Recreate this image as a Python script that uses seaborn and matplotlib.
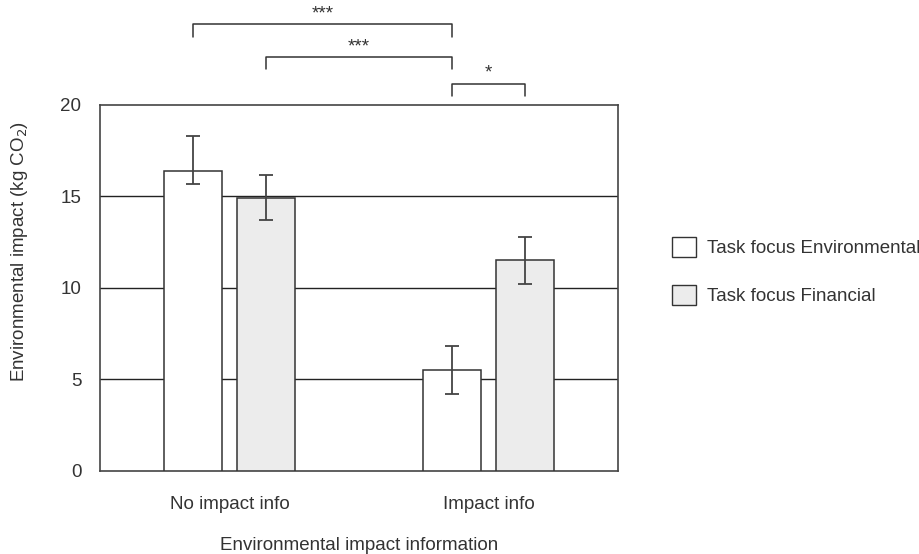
import matplotlib
matplotlib.use("Agg")
import matplotlib.pyplot as plt
import seaborn as sns
import pandas as pd
import numpy as np
from matplotlib.patches import Patch

# ---- data ----
info_levels = ["No impact info", "Impact info"]
focus_levels = ["Task focus Environmental", "Task focus Financial"]
means_env = [16.4, 5.5]
means_fin = [14.9, 11.5]
err_low_env = [15.7, 4.2]
err_high_env = [18.3, 6.8]
err_low_fin = [13.7, 10.2]
err_high_fin = [16.2, 12.8]
y_ticks = [0, 5, 10, 15, 20]
sig_labels = ["***", "***", "*"]

df = pd.DataFrame({
    "info": info_levels * 2,
    "focus": [focus_levels[0]] * 2 + [focus_levels[1]] * 2,
    "value": means_env + means_fin,
    "lo": err_low_env + err_low_fin,
    "hi": err_high_env + err_high_fin,
})

sns.set_theme(style="white")
plt.rcParams["font.family"] = ["Liberation Sans", "DejaVu Sans"]
plt.rcParams["text.color"] = "#333333"
plt.rcParams["axes.labelcolor"] = "#333333"
plt.rcParams["xtick.color"] = "#333333"
plt.rcParams["ytick.color"] = "#333333"

FS = 13.5

fig = plt.figure(figsize=(9.2, 5.54), dpi=100)
ax = fig.add_axes([0.1087, 0.150, 0.5630, 0.6605])

colors = {focus_levels[0]: "#ffffff", focus_levels[1]: "#ececec"}
sns.barplot(data=df, x="info", y="value", hue="focus", order=info_levels,
            hue_order=focus_levels, palette=colors, width=0.564, gap=0.2,
            errorbar=None, edgecolor="#333333", linewidth=1.1, ax=ax,
            legend=False, zorder=3)

# error bars at bar centers
centers = {}
for cont, focus in zip(ax.containers, focus_levels):
    for patch, info in zip(cont.patches, info_levels):
        cx = patch.get_x() + patch.get_width() / 2
        centers[(info, focus)] = cx
        row = df[(df["info"] == info) & (df["focus"] == focus)].iloc[0]
        ax.errorbar(cx, row["value"],
                    yerr=[[row["value"] - row["lo"]], [row["hi"] - row["value"]]],
                    fmt="none", ecolor="#444444", elinewidth=1.3, capsize=4.7,
                    capthick=1.3, zorder=4)

ax.set_ylim(0, 20)
ax.set_xlim(-0.5, 1.5)
ax.set_yticks(y_ticks)
ax.set_yticklabels([str(t) for t in y_ticks])
for yv in y_ticks[1:-1]:
    ax.axhline(yv, color="#222222", linewidth=1.0, zorder=1)

for s in ax.spines.values():
    s.set_visible(True)
    s.set_color("#444444")
    s.set_linewidth(1.2)
ax.tick_params(axis="both", length=0, labelsize=FS)
ax.tick_params(axis="x", pad=18)
ax.tick_params(axis="y", pad=13.5)
ax.set_xlabel("Environmental impact information", fontsize=FS, labelpad=17)
ax.set_ylabel("Environmental impact (kg CO$_2$)", fontsize=FS)
ax.yaxis.set_label_coords(-0.135, 0.60)

# significance brackets
brackets = [
    (centers[(info_levels[0], focus_levels[0])], centers[(info_levels[1], focus_levels[0])], 24.4, 23.7),
    (centers[(info_levels[0], focus_levels[1])], centers[(info_levels[1], focus_levels[0])], 22.6, 21.95),
    (centers[(info_levels[1], focus_levels[0])], centers[(info_levels[1], focus_levels[1])], 21.15, 20.5),
]
for (x1, x2, ytop, ybot), lab in zip(brackets, sig_labels):
    ax.plot([x1, x1, x2, x2], [ybot, ytop, ytop, ybot], color="#333333",
            linewidth=1.1, clip_on=False, zorder=5)
    ax.text((x1 + x2) / 2, ytop + 0.12, lab, ha="center", va="bottom",
            fontsize=13.5, color="#333333", clip_on=False)

handles = [Patch(facecolor=colors[f], edgecolor="#333333", linewidth=1.0)
           for f in focus_levels]
ax.legend(handles, focus_levels, loc="center left", bbox_to_anchor=(1.104, 0.546),
          frameon=False, fontsize=FS, handlelength=1.3, handleheight=1.3,
          labelspacing=1.47, handletextpad=0.55, borderaxespad=0, borderpad=0)

fig.savefig("out.png", dpi=100)
